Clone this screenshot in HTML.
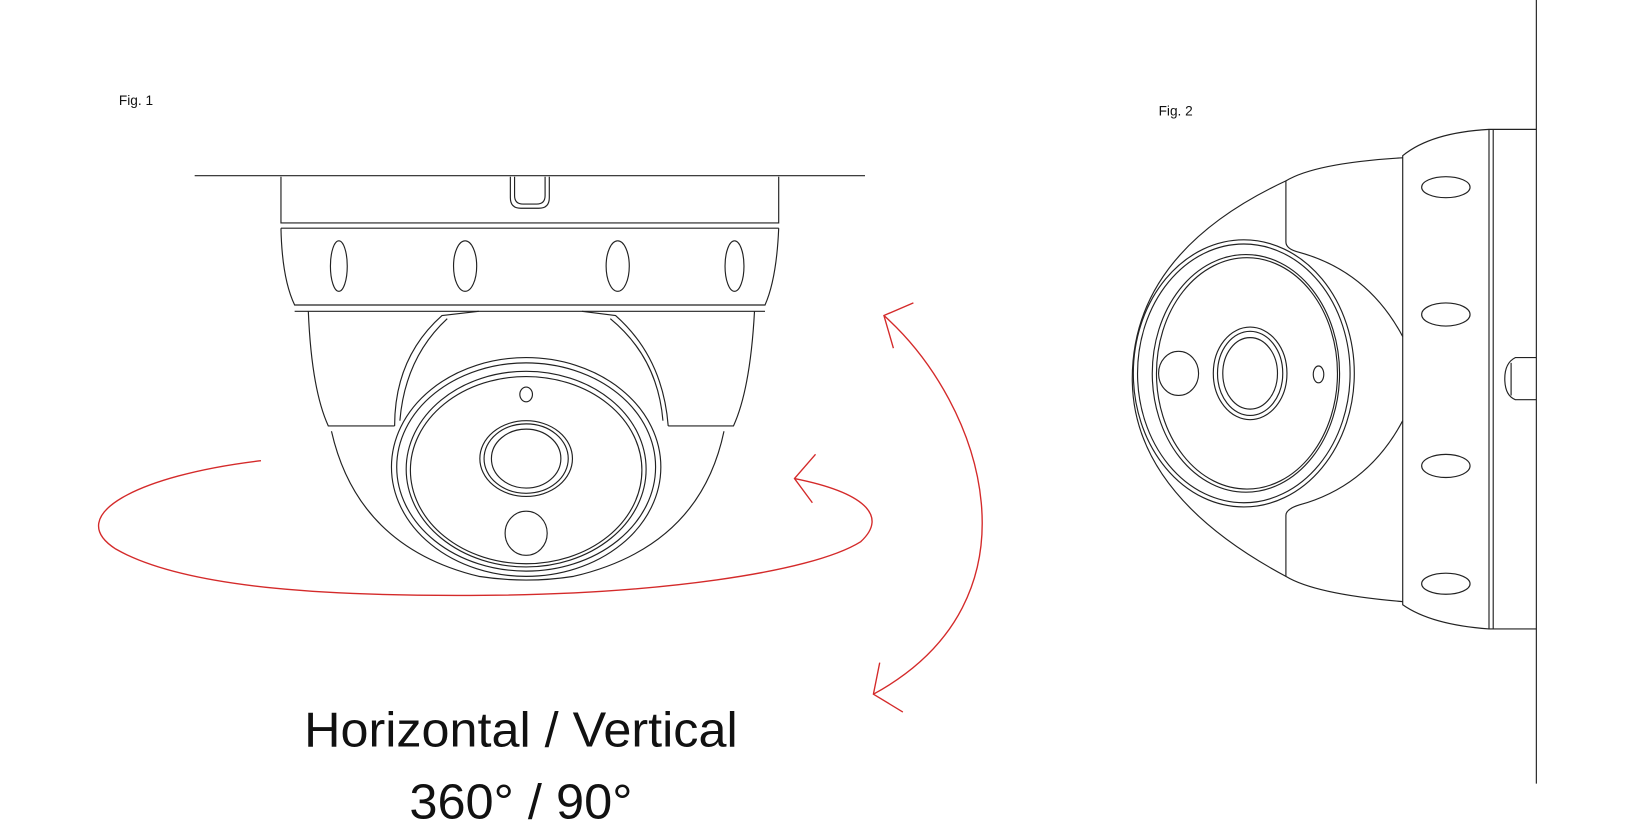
<!DOCTYPE html>
<html><head><meta charset="utf-8"><style>
html,body{margin:0;padding:0;background:#fff;}
svg{display:block;}
</style></head><body>
<svg width="1650" height="833" viewBox="0 0 1568 792" preserveAspectRatio="none" xmlns="http://www.w3.org/2000/svg">
<g fill="none" stroke="#222" stroke-width="1.1">
<line x1="185" y1="167" x2="822" y2="167"/>
<path d="M267,168 V212 H740 V168"/>
<path d="M485,168 V188 Q485,198 495,198 H512 Q522,198 522,188 V168"/>
<path d="M489,168 V186 Q489,194 497,194 H510 Q518,194 518,186 V168"/>
<line x1="267" y1="217" x2="740" y2="217"/>
<path d="M267,217 Q268,265 280,290 H727 Q738,265 740,217"/>
<line x1="280" y1="296" x2="727" y2="296"/>
<ellipse cx="322" cy="253" rx="8" ry="24"/>
<ellipse cx="442" cy="253" rx="11" ry="24"/>
<ellipse cx="587" cy="253" rx="11" ry="24"/>
<ellipse cx="698" cy="253" rx="9" ry="24"/>
<path d="M293,296 Q296,370 312,405 H375"/>
<path d="M717,296 Q713,370 697,405 H635"/>
<path d="M375,405 Q375,340 420,300 L455,296"/>
<path d="M380,400 Q385,340 425,303"/>
<path d="M635,405 Q630,340 585,300 L553,296"/>
<path d="M630,400 Q625,340 580,303"/>
<path d="M315,410 Q340,520 455,548 Q500,555 545,548 Q665,520 688,410"/>
<ellipse cx="500" cy="444" rx="128" ry="104"/>
<ellipse cx="500" cy="444" rx="123" ry="99"/>
<ellipse cx="500" cy="446" rx="114" ry="93"/>
<ellipse cx="500" cy="447" rx="110" ry="89"/>
<ellipse cx="500" cy="375" rx="6" ry="7"/>
<ellipse cx="500" cy="436" rx="44" ry="36"/>
<ellipse cx="500" cy="436" rx="40" ry="33"/>
<ellipse cx="500" cy="436" rx="33" ry="28"/>
<ellipse cx="500" cy="507" rx="20" ry="21"/>
<line x1="1460" y1="0" x2="1460" y2="745"/>
<path d="M1460,123 H1415 Q1360,126 1333,148 V575 Q1360,594 1415,598 H1460"/>
<line x1="1415" y1="123" x2="1415" y2="598"/>
<line x1="1419" y1="123" x2="1419" y2="598"/>
<path d="M1460,340 H1440 Q1430,345 1430,360 Q1430,376 1440,380 H1460"/>
<line x1="1436" y1="345" x2="1436" y2="376"/>
<ellipse cx="1374" cy="178" rx="23" ry="10"/>
<ellipse cx="1374" cy="299" rx="23" ry="11"/>
<ellipse cx="1374" cy="443" rx="23" ry="11"/>
<ellipse cx="1374" cy="555" rx="23" ry="10"/>
<path d="M1333,150 Q1250,155 1222,172 V230 Q1222,237 1235,240 Q1300,258 1333,320"/>
<path d="M1333,572 Q1250,565 1222,548 V490 Q1222,484 1235,480 Q1300,462 1333,400"/>
<path d="M1222,172 Q1076,240 1076,360 Q1076,470 1222,548"/>
<ellipse cx="1182" cy="355" rx="105" ry="127"/>
<ellipse cx="1182" cy="355" rx="101" ry="123"/>
<ellipse cx="1184" cy="355" rx="89" ry="113"/>
<ellipse cx="1185" cy="355" rx="86" ry="110"/>
<ellipse cx="1188" cy="355" rx="35" ry="44"/>
<ellipse cx="1188" cy="355" rx="31" ry="40"/>
<ellipse cx="1188" cy="355" rx="26" ry="34"/>
<ellipse cx="1120" cy="355" rx="19" ry="21"/>
<ellipse cx="1253" cy="356" rx="5" ry="8"/>
</g>
<g fill="none" stroke="#d42a2a" stroke-width="1.3">
<path d="M248,438 C130,452 60,490 110,522 C180,562 330,567 460,566 C620,565 770,545 818,515 C845,490 820,468 755,455"/>
<path d="M775,432 L755,455 L772,478"/>
<path d="M840,300 C935,385 995,570 830,660"/>
<path d="M868,288 L840,300 L849,331"/>
<path d="M836,630 L830,660 L858,677"/>
</g>
<g font-family="Liberation Sans, sans-serif" fill="#111">
<text x="113" y="100" font-size="13">Fig. 1</text>
<text x="1101" y="110" font-size="13">Fig. 2</text>
<text x="495" y="710" font-size="47" text-anchor="middle" textLength="412" lengthAdjust="spacingAndGlyphs">Horizontal / Vertical</text>
<text x="495" y="778" font-size="47" text-anchor="middle" textLength="212" lengthAdjust="spacingAndGlyphs">360° / 90°</text>
</g>
</svg>
</body></html>
